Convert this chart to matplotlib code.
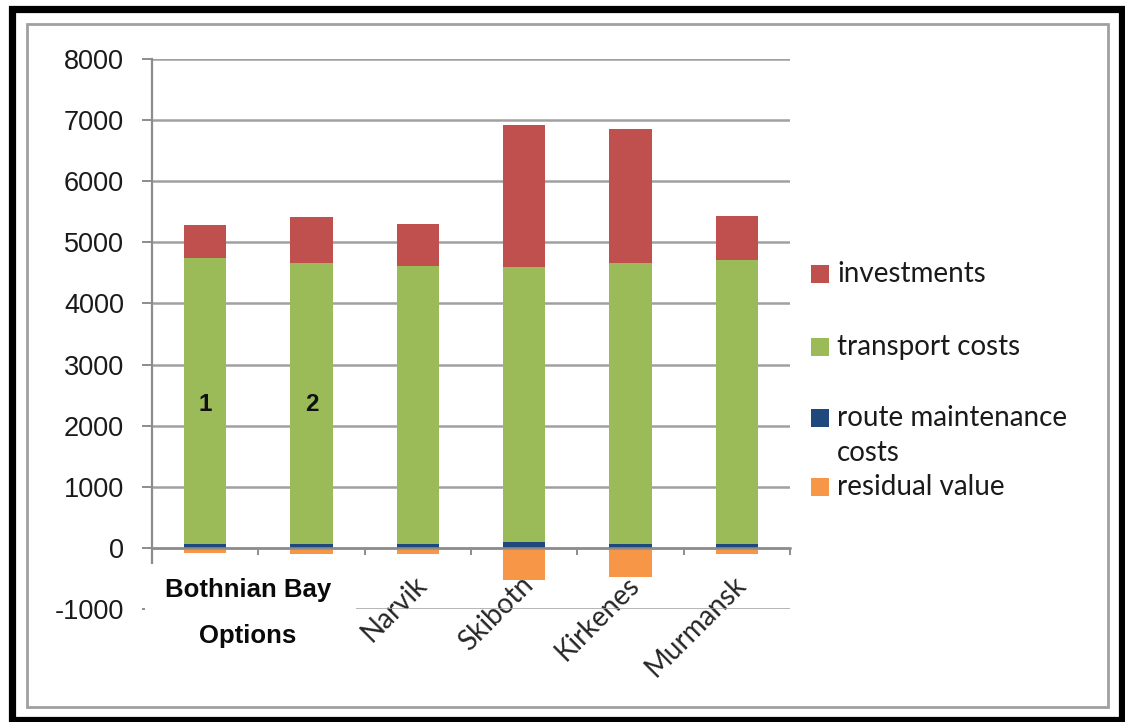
import matplotlib
matplotlib.use("Agg")
import matplotlib.pyplot as plt
import matplotlib.transforms as mtransforms
from matplotlib.patches import Rectangle
import numpy as np

plt.rcParams["axes.unicode_minus"] = False

# Cost components per route option
categories = ["Bothnian Bay 1", "Bothnian Bay 2", "Narvik", "Skibotn", "Kirkenes", "Murmansk"]
tick_labels = ["", "", "Narvik", "Skibotn", "Kirkenes", "Murmansk"]
route_maintenance = [70, 70, 70, 100, 70, 60]
transport_costs = [4680, 4590, 4545, 4500, 4590, 4650]
investments = [540, 750, 690, 2320, 2190, 720]
residual_value = [-80, -100, -95, -525, -480, -105]
option_numbers = ["1", "2"]

series_names = ["investments", "transport costs", "route maintenance\ncosts", "residual value"]
colors = {"inv": "#C0504D", "trans": "#9BBB59", "route": "#1F497D", "resid": "#F79646"}

W, H = 1125, 722
fig = plt.figure(figsize=(W / 100, H / 100), dpi=100)
fig.patch.set_facecolor("white")

def fx(px):
    return px / W

def fy(py):
    return 1 - py / H

ax_left, ax_right = 152, 790
ax_top, ax_bottom = 59, 609
ax = fig.add_axes([fx(ax_left), fy(ax_bottom), fx(ax_right - ax_left), (ax_bottom - ax_top) / H])

x = np.arange(len(categories))
bw = 0.40
rm = np.array(route_maintenance)
tc = np.array(transport_costs)
iv = np.array(investments)
rv = np.array(residual_value)

ax.bar(x, rm, bw, color=colors["route"], zorder=3)
ax.bar(x, tc, bw, bottom=rm, color=colors["trans"], zorder=3)
ax.bar(x, iv, bw, bottom=rm + tc, color=colors["inv"], zorder=3)
ax.bar(x, rv, bw, color=colors["resid"], zorder=3)

ax.set_xlim(-0.5, len(categories) - 0.5)
ax.set_ylim(-1000, 8000)
ax.set_yticks(np.arange(-1000, 8001, 1000))
ax.yaxis.grid(True, color="#A0A0A0", linewidth=1.8, zorder=0)
ax.set_axisbelow(True)

for s in ["top", "right"]:
    ax.spines[s].set_visible(False)
ax.spines["left"].set_color("#8C8C8C")
ax.spines["left"].set_linewidth(1.6)
ax.spines["bottom"].set_position(("data", 0))
ax.spines["bottom"].set_color("#8C8C8C")
ax.spines["bottom"].set_linewidth(1.8)
ax.spines["bottom"].set_zorder(4)

ax.tick_params(axis="y", direction="out", length=7, width=1.4, color="#8C8C8C",
               pad=13, labelsize=19.5, labelcolor="#1a1a1a")
for lab in ax.get_yticklabels():
    lab.set_fontfamily("Liberation Sans")

ax.set_xticks(x)
ax.set_xticklabels(tick_labels, rotation=45, ha="right", va="top",
                   rotation_mode="anchor", fontsize=20, family="Lato", color="#262626")
ax.tick_params(axis="x", which="major", length=0, pad=17)
shift = mtransforms.ScaledTranslation(-4 / 100, 0, fig.dpi_scale_trans)
for lab in ax.get_xticklabels():
    lab.set_transform(lab.get_transform() + shift)
ax.set_xticks(np.arange(-0.5, len(categories), 1.0), minor=True)
ax.tick_params(axis="x", which="minor", direction="out", length=5, width=1.4, color="#8C8C8C")

# Option numbers inside the Bothnian Bay bars
for i, t in enumerate(option_numbers):
    ax.text(x[i], 2340, t, ha="center", va="center", fontsize=17.5,
            fontweight="bold", family="Liberation Sans", color="#111111", zorder=5)

# White label box over the Bothnian Bay category labels
fig.add_artist(Rectangle((fx(145), fy(680)), fx(356 - 145), (680 - 564) / H,
                         transform=fig.transFigure, facecolor="white",
                         edgecolor="none", zorder=5))
fig.text(fx(248), fy(590), "Bothnian Bay", ha="center", va="center", fontsize=18.5,
         fontweight="bold", family="Liberation Sans", color="#0a0a0a", zorder=6)
fig.text(fx(248), fy(636), "Options", ha="center", va="center", fontsize=18.5,
         fontweight="bold", family="Liberation Sans", color="#0a0a0a", zorder=6)

# Legend entries
legend_rows = [(274, colors["inv"], series_names[0]),
               (347, colors["trans"], series_names[1]),
               (418, colors["route"], series_names[2]),
               (487, colors["resid"], series_names[3])]
for yc, col, name in legend_rows:
    fig.add_artist(Rectangle((fx(811), fy(yc + 9)), fx(18), 18 / H,
                             transform=fig.transFigure, facecolor=col,
                             edgecolor="none", zorder=6))
    if "\n" in name:
        fig.text(fx(837), fy(yc - 13), name, ha="left", va="top",
                 fontsize=20, family="Lato", color="#1a1a1a", linespacing=1.45, zorder=6)
    else:
        fig.text(fx(837), fy(yc), name, ha="left", va="center",
                 fontsize=20, family="Lato", color="#1a1a1a", zorder=6)

# Frames: inner chart border and outer black border
fig.add_artist(Rectangle((fx(27), fy(707)), fx(1108 - 27), (707 - 24) / H,
                         transform=fig.transFigure, facecolor="none",
                         edgecolor="#A0A0A0", linewidth=2.0, zorder=7))
fig.add_artist(Rectangle((fx(11.5), fy(720)), fx(1121.5 - 11.5), (720 - 8.5) / H,
                         transform=fig.transFigure, facecolor="none",
                         edgecolor="black", linewidth=5.2, zorder=8))

fig.savefig("out.png", dpi=100, facecolor="white")
